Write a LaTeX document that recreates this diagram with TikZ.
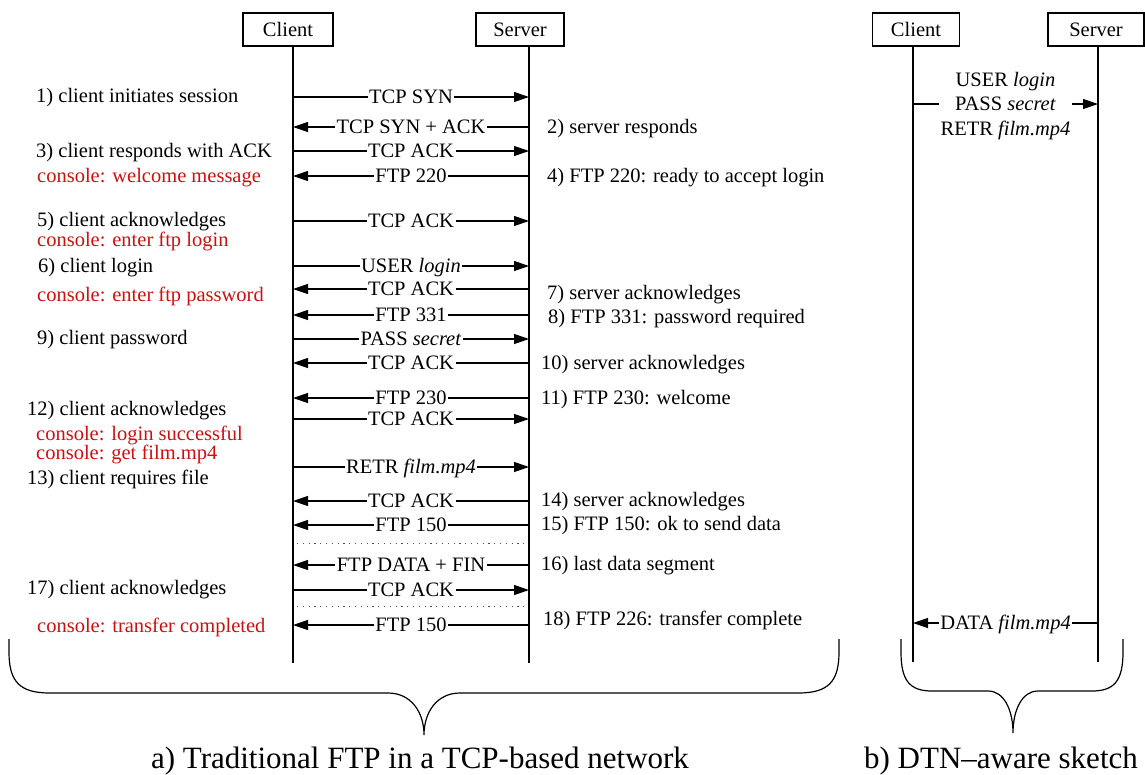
\documentclass[tikz,border=0pt]{standalone}
\usepackage{fontspec}
\setmainfont{Liberation Serif}
\usetikzlibrary{arrows.meta}
\definecolor{consred}{RGB}{204,16,16}
\begin{document}
\begin{tikzpicture}[x=1pt,y=-1pt,
  every node/.style={font=\fontsize{20.5}{24.5}\selectfont},
  box/.style={draw, line width=1.2pt, minimum height=33pt, inner sep=0pt},
  life/.style={line width=1.2pt},
  msg/.style={line width=1.2pt, -{Triangle[length=15pt,width=10pt]}},
  lbl/.style={fill=white, inner xsep=1.5pt, inner ysep=0pt, anchor=base, yshift=-6.8pt},
  note/.style={anchor=base west, inner sep=0pt, yshift=-6.8pt},
  cons/.style={note, text=consred},
  dots/.style={line width=1pt, gray!60!black, dash pattern=on 1.2pt off 4.6pt},
  brace/.style={line width=1.2pt},
  caption/.style={font=\fontsize{31}{36}\selectfont, anchor=base, inner sep=0pt}
]
\useasboundingbox (0,0) rectangle (1145,774);

% ---------- a) traditional FTP ----------
\node[box, minimum width=90pt] (ca) at (288,29.5) {Client};
\node[box, minimum width=88pt] (sa) at (520,29.5) {Server};
\coordinate (cab) at (293,663);
\coordinate (sab) at (529,663);
\draw[life] (ca.south -| cab) -- (cab);
\draw[life] (sa.south -| sab) -- (sab);

\newcommand\toS[2]{\draw[msg] (cab |- 0,#1) -- node[lbl]{#2} (sab |- 0,#1);}
\newcommand\toC[2]{\draw[msg] (sab |- 0,#1) -- node[lbl]{#2} (cab |- 0,#1);}

\toS{97}{TCP SYN}
\toC{127}{TCP SYN + ACK}
\toS{151}{TCP ACK}
\toC{176}{FTP 220}
\toS{221}{TCP ACK}
\toS{266}{USER \textit{login}}
\toC{289}{TCP ACK}
\toC{315}{FTP 331}
\toS{339}{PASS \textit{secret}}
\toC{363}{TCP ACK}
\toC{398}{FTP 230}
\toS{419}{TCP ACK}
\toS{467}{RETR \textit{film.mp4}}
\toC{501}{TCP ACK}
\toC{525}{FTP 150}
\toC{565}{FTP DATA + FIN}
\toS{590}{TCP ACK}
\toC{625}{FTP 150}

% separators between data segments
\draw[dots] (297,543) -- (527,543);
\draw[dots] (297,606) -- (527,606);

% client-side notes
\node[note] (l1)  at (36,96)  {1) client initiates session};
\node[note] (l3)  at (36,151) {3) client responds with ACK};
\node[cons] (k4)  at (37,176) {console: welcome message};
\node[note] (l5)  at (37,220) {5) client acknowledges};
\node[cons] (k5)  at (37,240) {console: enter ftp login};
\node[note] (l6)  at (38,266) {6) client login};
\node[cons] (k7)  at (37,295) {console: enter ftp password};
\node[note] (l9)  at (37,338) {9) client password};
\node[note] (l12) at (27,409) {12) client acknowledges};
\node[cons] (k12) at (36,434) {console: login successful};
\node[cons] (k13) at (36,453) {console: get film.mp4};
\node[note] (l13) at (27,478) {13) client requires file};
\node[note] (l17) at (27,588) {17) client acknowledges};
\node[cons] (k18) at (37,626) {console: transfer completed};

% server-side notes
\node[note] (r2)  at (547,127) {2) server responds};
\node[note] (r4)  at (547,176) {4) FTP 220: ready to accept login};
\node[note] (r7)  at (547,293) {7) server acknowledges};
\node[note] (r8)  at (548,317) {8) FTP 331: password required};
\node[note] (r10) at (541,363) {10) server acknowledges};
\node[note] (r11) at (541,398) {11) FTP 230: welcome};
\node[note] (r14) at (541,500) {14) server acknowledges};
\node[note] (r15) at (541,524) {15) FTP 150: ok to send data};
\node[note] (r16) at (541,564) {16) last data segment};
\node[note] (r18) at (543,619) {18) FTP 226: transfer complete};

% brace and caption
\draw[brace] (9,639) -- (9,652) .. controls (9,682) and (20,693) .. (50,693)
  -- (388,693) .. controls (411,693) and (424,712) .. (424,735)
  .. controls (424,712) and (437,693) .. (460,693)
  -- (798,693) .. controls (828,693) and (839,682) .. (839,652) -- (839,639);
\node[caption] (capa) at (420,768) {a) Traditional FTP in a TCP-based network};

% ---------- b) DTN-aware sketch ----------
\node[box, minimum width=87pt] (cb) at (916,29.5) {Client};
\node[box, minimum width=96pt] (sb) at (1096,29.5) {Server};
\coordinate (cbb) at (913,662);
\coordinate (sbb) at (1098,662);
\draw[life] (cb.south -| cbb) -- (cbb);
\draw[life] (sb.south -| sbb) -- (sbb);

\draw[msg] (cbb |- 0,104) -- node[fill=white, inner xsep=1.5pt, inner ysep=0pt, align=center, yshift=-2pt]
  {USER \textit{login}\\PASS \textit{secret}\\RETR \textit{film.mp4}} (sbb |- 0,104);
\draw[msg] (sbb |- 0,623) -- node[lbl]{DATA \textit{film.mp4}} (cbb |- 0,623);

\draw[brace] (901,639) -- (901,652) .. controls (901,681) and (910,691) .. (932,691)
  -- (988,691) .. controls (1004,691) and (1013,710) .. (1013,733)
  .. controls (1013,710) and (1022,691) .. (1038,691)
  -- (1092,691) .. controls (1114,691) and (1123,681) .. (1123,652) -- (1123,639);
\node[caption] (capb) at (1001,768) {b) DTN–aware sketch};
\end{tikzpicture}
\end{document}
